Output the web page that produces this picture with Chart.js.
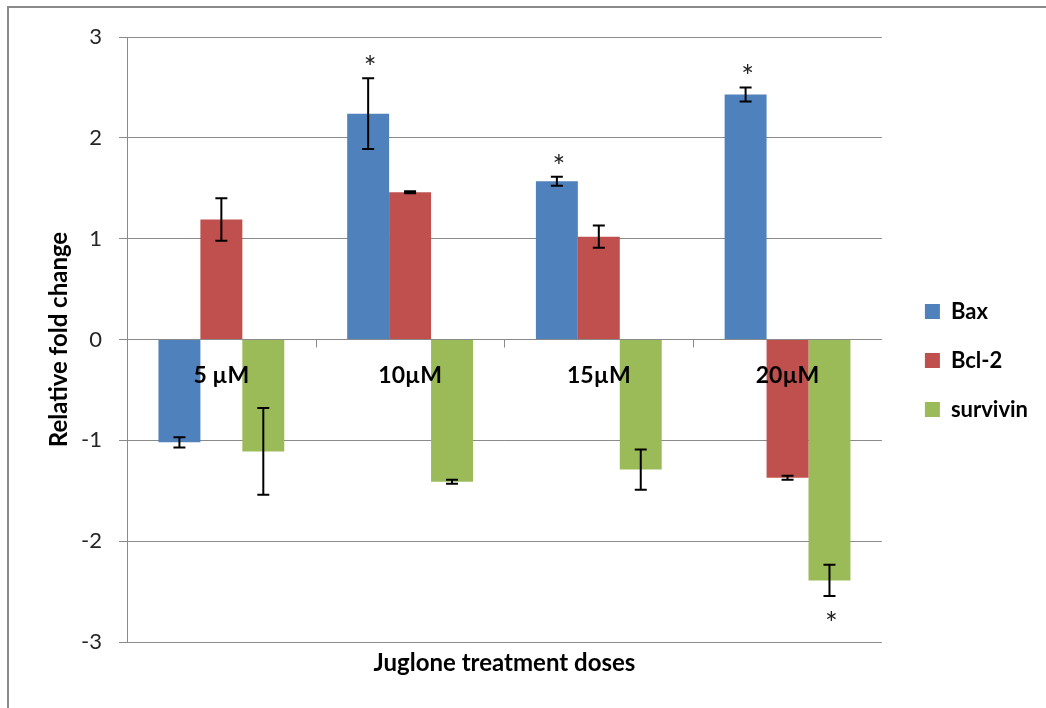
<!DOCTYPE html>
<html>
<head>
<meta charset="utf-8">
<script src="https://cdn.jsdelivr.net/npm/chart.js@4/dist/chart.umd.min.js"></script>
<style>
  html, body { margin: 0; padding: 0; background: #fff; }
  #wrap { position: relative; width: 1046px; height: 708px; overflow: hidden; }
  #frame { position: absolute; left: 7px; top: 6px; width: 1100px; height: 800px;
           border-top: 2px solid #8a8a8a; border-left: 2px solid #8a8a8a; }
  canvas { position: absolute; left: 0; top: 0; }
</style>
</head>
<body>
<div id="wrap">
  <div id="frame"></div>
  <canvas id="myChart" width="1046" height="708"></canvas>
</div>
<script>
var doses = ['5 µM', '10µM', '15µM', '20µM']

var bax = [-1.02, 2.24, 1.57, 2.43]
var baxErr = [0.05, 0.35, 0.045, 0.07]
var baxStar = [false, true, true, true]

var bcl2 = [1.19, 1.46, 1.02, -1.37]
var bcl2Err = [0.21, 0.01, 0.11, 0.02]
var bcl2Star = [false, false, false, false]

var survivin = [-1.11, -1.41, -1.29, -2.39]
var survivinErr = [0.43, 0.02, 0.2, 0.155]
var survivinStar = [false, false, false, true]

var yTicks = [-3, -2, -1, 0, 1, 2, 3]

var gridColor = '#8a8a8a'
var fontName = 'Lato, "Liberation Sans", sans-serif'

// error bars, asterisks, dose labels on the zero line
var extras = {
    id: 'extras',
    afterDatasetsDraw: function (chart) {
        var ctx = chart.ctx
        var y = chart.scales.y
        var x = chart.scales.x
        var zero = y.getPixelForValue(0)

        ctx.save()
        // small ticks on the zero line between groups
        ctx.strokeStyle = gridColor
        ctx.lineWidth = 1
        for (var k = 1; k < doses.length; k++) {
            var bx = Math.round((x.getPixelForValue(k - 1) + x.getPixelForValue(k)) / 2) + 0.5
            ctx.beginPath()
            ctx.moveTo(bx, zero)
            ctx.lineTo(bx, zero + 8)
            ctx.stroke()
        }

        chart.data.datasets.forEach(function (ds, i) {
            var meta = chart.getDatasetMeta(i)
            meta.data.forEach(function (bar, j) {
                var v = ds.data[j]
                var e = ds.err[j]
                var top = y.getPixelForValue(v + e)
                var bot = y.getPixelForValue(v - e)
                ctx.strokeStyle = '#000'
                ctx.lineWidth = 2
                ctx.beginPath()
                ctx.moveTo(bar.x, top)
                ctx.lineTo(bar.x, bot)
                ctx.moveTo(bar.x - 6, top)
                ctx.lineTo(bar.x + 6, top)
                ctx.moveTo(bar.x - 6, bot)
                ctx.lineTo(bar.x + 6, bot)
                ctx.stroke()

                if (ds.star[j]) {
                    ctx.fillStyle = '#222'
                    ctx.font = '30px ' + fontName
                    ctx.textAlign = 'center'
                    ctx.textBaseline = 'alphabetic'
                    var cy = v >= 0 ? top - 16 : bot + 22
                    ctx.fillText('*', bar.x + 2, cy + 16)
                }
            })
        })

        ctx.fillStyle = '#000'
        ctx.font = 'bold 23px ' + fontName
        ctx.textAlign = 'center'
        ctx.textBaseline = 'middle'
        doses.forEach(function (d, j) {
            ctx.fillText(d, x.getPixelForValue(j), zero + 36)
        })
        ctx.restore()
    }
}

const data = {
    labels: doses,
    datasets: [
        { label: 'Bax', data: bax, err: baxErr, star: baxStar, backgroundColor: '#4F81BD' },
        { label: 'Bcl-2', data: bcl2, err: bcl2Err, star: bcl2Star, backgroundColor: '#C0504D' },
        { label: 'survivin', data: survivin, err: survivinErr, star: survivinStar, backgroundColor: '#9BBB59' }
    ]
}

const config = {
    type: 'bar',
    data: data,
    plugins: [extras],
    options: {
        responsive: false,
        animation: false,
        categoryPercentage: 2 / 3,
        barPercentage: 1,
        layout: { padding: { top: 37, left: 0, right: 8, bottom: 24 } },
        plugins: {
            tooltip: { enabled: false },
            legend: {
                position: 'right',
                maxWidth: 149,
                labels: {
                    boxWidth: 15,
                    boxHeight: 15,
                    padding: 27,
                    color: '#000',
                    font: { family: fontName, size: 22, weight: 'bold' }
                }
            }
        },
        scales: {
            x: {
                grid: { display: false },
                border: { display: false },
                ticks: { display: false },
                title: {
                    display: true,
                    text: 'Juglone treatment doses',
                    color: '#000',
                    font: { family: fontName, size: 24, weight: 'bold' },
                    padding: { top: 0, bottom: 6 }
                },
                afterFit: function (s) { s.height = 42 }
            },
            y: {
                min: -3,
                max: 3,
                afterBuildTicks: function (s) {
                    s.ticks = yTicks.map(function (t) { return { value: t } })
                },
                grid: { color: gridColor, tickLength: 8 },
                border: { color: gridColor },
                ticks: {
                    padding: 17,
                    color: '#262626',
                    font: { family: fontName, size: 22 }
                },
                title: {
                    display: true,
                    text: 'Relative fold change',
                    color: '#000',
                    font: { family: fontName, size: 24, weight: 'bold' },
                    padding: { top: 45, bottom: 0 }
                },
                afterFit: function (s) { s.width = 127 }
            },
            spacer: {
                position: 'right',
                display: true,
                grid: { display: false },
                border: { display: false },
                ticks: { display: false },
                afterFit: function (s) { s.width = 16 }
            }
        }
    }
}

const myChart = new Chart(document.getElementById('myChart'), config)
</script>
</body>
</html>
